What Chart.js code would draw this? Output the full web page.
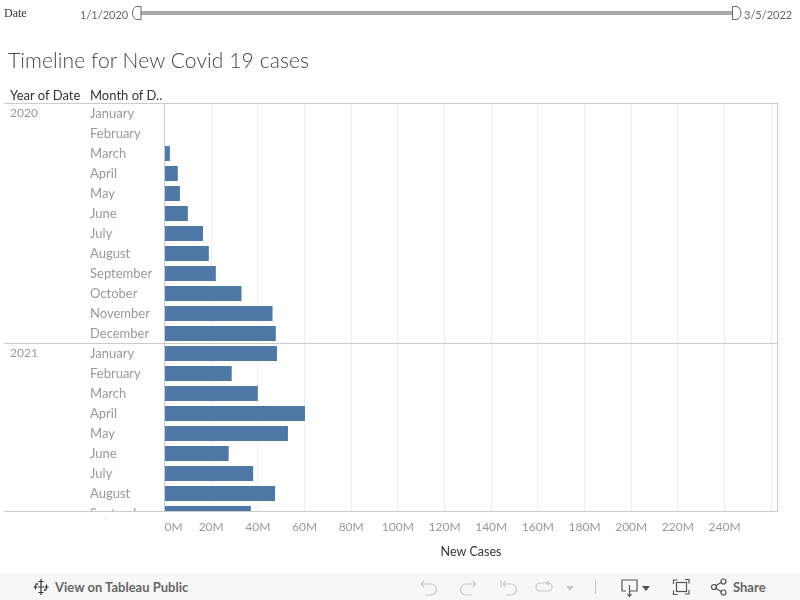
<!DOCTYPE html>
<html>
<head>
<meta charset="utf-8">
<script src="https://cdn.jsdelivr.net/npm/chart.js@4"></script>
<style>
    html, body { margin: 0; padding: 0; background: #fff; overflow: hidden; }
    #wrap { position: relative; width: 800px; height: 600px; font-family: Lato, sans-serif; }
    #wrap canvas { position: absolute; left: 0; top: 0; }
    .txt { position: absolute; white-space: nowrap; }
    svg { position: absolute; overflow: visible; }
    #toolbar { position: absolute; left: 0; top: 573px; width: 800px; height: 27px; background: #f7f7f7; }
</style>
</head>
<body>
<div id="wrap">
    <canvas id="chart" width="800" height="600"></canvas>

    <div class="txt" style="left:4px;top:6px;font:12px 'Liberation Serif',serif;color:#333">Date</div>
    <div class="txt" style="left:80px;top:8px;font-size:11px;color:#666">1/1/2020</div>
    <div class="txt" style="left:744px;top:8px;font-size:11px;color:#666">3/5/2022</div>
    <svg style="left:0;top:0" width="800" height="30">
        <rect x="140" y="11" width="593" height="4" fill="#aaa"/>
        <path d="M141 6.5 H137 A4.5 6.5 0 0 0 137 19.5 H141 Z" fill="#fff" stroke="#666"/>
        <path d="M732.5 6.5 H736 A5 6.5 0 0 1 736 19.5 H732.5 Z" fill="#fff" stroke="#666"/>
    </svg>

    <div class="txt" style="left:8px;top:47px;font-size:21px;font-weight:300;letter-spacing:0.1px;color:#444">Timeline for New Covid 19 cases</div>
    <div class="txt" style="left:10px;top:87px;font-size:13px;color:#333">Year of Date</div>
    <div class="txt" style="left:90px;top:87px;font-size:13px;color:#333">Month of D..</div>

    <div id="toolbar"></div>
    <svg style="left:0;top:0" width="800" height="600">
        <g stroke="#333" stroke-width="1.2" fill="none">
            <path d="M41 579 v5 M38.5 581.5 h5 M41 590 v5 M38.5 592.5 h5 M35.5 584.5 v5 M33.5 587 h4 M46.5 584.5 v5 M44.5 587 h4 M41 584 v6 M38 587 h6 M37 583 v2 M36 584 h2 M45 589 v2 M44 590 h2"/>
        </g>
        <g stroke="#c8c8c8" stroke-width="1.2" fill="none">
            <path d="M421 584 h10 a5 5 0 0 1 0 11 h-6 M421 584 l3 -3 M421 584 l3 3"/>
            <path d="M476 584 h-10 a5 5 0 0 0 0 11 h6 M476 584 l-3 -3 M476 584 l-3 3"/>
            <path d="M501 580 v7 M503 584 h8 a5 5 0 0 1 0 11 h-5 M503 584 l3 -3 M503 584 l3 3"/>
            <path d="M540 583 h8 a4 4 0 0 1 0 8 h-8 a4 4 0 0 1 0 -8 M546 583 l3 -2 M546 583 l3 2"/>
            <path d="M595.500 580 v14"/>
        </g>
        <path d="M566 586 h8 l-4 5 Z" fill="#c8c8c8"/>
        <g stroke="#555" stroke-width="1.2" fill="none">
            <path d="M626 591 h-4 v-11 h15 v11 h-7 M629.500 585 v11 M627.500 594 l2 2.500 l2 -2.500"/>
            <path d="M673.500 584 v-4 h4 M685 579.500 h4 v4 M689 590 v4 h-4 M677.500 594.500 h-4 v-4"/>
            <rect x="676.500" y="582.500" width="10" height="9"/>
            <path d="M715 586 l7 -4 M715 588 l7 4"/>
            <circle cx="714" cy="587" r="2.500"/>
            <circle cx="723.500" cy="581.500" r="2.500"/>
            <circle cx="723.500" cy="592.500" r="2.500"/>
        </g>
        <path d="M642 586 h8 l-4 5 Z" fill="#555"/>
    </svg>
    <div class="txt" style="left:55px;top:579px;font-size:13px;font-weight:700;color:#666">View on Tableau Public</div>
    <div class="txt" style="left:733px;top:579px;font-size:13px;font-weight:700;color:#666">Share</div>
</div>

<script>
const monthLabels = ['January', 'February', 'March', 'April', 'May', 'June', 'July', 'August', 'September', 'October', 'November', 'December',
    'January', 'February', 'March', 'April', 'May', 'June', 'July', 'August', 'September'];
const yearLabels = ['2020', '2021'];
const yearStarts = [0, 12];
const newCases = [0, 0, 2.3, 5.7, 6.6, 10, 16.5, 19, 22, 33, 46.3, 47.7,
    48.2, 28.8, 40, 60.2, 52.9, 27.5, 38, 47.4, 37];
const xTickValues = [0, 20, 40, 60, 80, 100, 120, 140, 160, 180, 200, 220, 240, 260];

document.addEventListener('DOMContentLoaded', function () {

    // year column and the long rules that run past the plot area
    const tablePlugin = {
        id: 'tableLines',
        afterDraw(chart) {
            const ctx = chart.ctx;
            const y = chart.scales.y;
            const area = chart.chartArea;
            ctx.save();

            // the month labels get cut off at the bottom of the pane
            ctx.fillStyle = '#fff';
            ctx.fillRect(80, area.bottom, 84, 8);

            ctx.fillStyle = '#999';
            ctx.font = '12px Lato, sans-serif';
            ctx.textBaseline = 'middle';
            ctx.textAlign = 'left';
            yearLabels.forEach((label, i) => {
                ctx.fillText(label, 10, y.getPixelForValue(yearStarts[i]));
            });

            ctx.strokeStyle = '#ccc';
            ctx.lineWidth = 1;
            ctx.beginPath();
            [103.5, y.getPixelForValue(11.5), 511.5].forEach(py => {
                ctx.moveTo(4, Math.round(py - 0.5) + 0.5);
                ctx.lineTo(778, Math.round(py - 0.5) + 0.5);
            });
            ctx.moveTo(777.5, 103.5);
            ctx.lineTo(777.5, 511.5);
            ctx.stroke();
            ctx.restore();
        }
    };

    new Chart(document.getElementById('chart'), {
        type: 'bar',
        plugins: [tablePlugin],
        data: {
            datasets: [{
                data: newCases.map((v, i) => ({ x: v, y: i })),
                backgroundColor: '#4e79a7',
                borderWidth: 0,
                inflateAmount: 0,
                barThickness: 15
            }]
        },
        options: {
            indexAxis: 'y',
            responsive: false,
            animation: false,
            layout: { padding: { left: 90, right: 22.5, top: 103.5, bottom: 28.5 } },
            plugins: {
                legend: { display: false },
                tooltip: { enabled: false }
            },
            scales: {
                y: {
                    type: 'linear',
                    offset: false,
                    min: -0.5,
                    max: 19.9,
                    reverse: true,
                    afterBuildTicks: scale => {
                        scale.ticks = monthLabels.map((m, i) => ({ value: i }));
                    },
                    afterFit: scale => { scale.width = 74.5; },
                    grid: { display: false },
                    border: { display: true, color: '#ccc' },
                    ticks: {
                        autoSkip: false,
                        crossAlign: 'far',
                        padding: 0,
                        color: '#999',
                        font: { family: 'Lato, sans-serif', size: 13 },
                        callback: value => monthLabels[value]
                    }
                },
                x: {
                    type: 'linear',
                    min: 0,
                    max: 262.7,
                    afterBuildTicks: scale => {
                        scale.ticks = xTickValues.map(v => ({ value: v }));
                    },
                    afterFit: scale => { scale.height = 60; },
                    grid: { color: '#efefef', drawTicks: false },
                    border: { display: false },
                    title: {
                        display: true,
                        text: 'New Cases',
                        color: '#333',
                        font: { family: 'Lato, sans-serif', size: 12.5 },
                        padding: { top: 14, bottom: 12 }
                    },
                    ticks: {
                        autoSkip: false,
                        maxRotation: 0,
                        align: 'inner',
                        padding: 8,
                        color: '#999',
                        font: { family: 'Lato, sans-serif', size: 12 },
                        callback: value => value === 260 ? '' : value + 'M'
                    }
                }
            }
        }
    });
});
</script>
</body>
</html>
